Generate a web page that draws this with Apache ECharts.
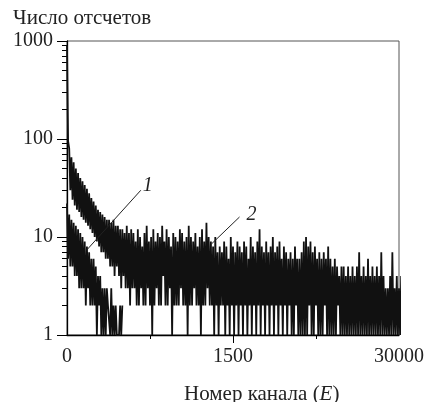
<!DOCTYPE html>
<html><head><meta charset="utf-8">
<script src="https://cdn.jsdelivr.net/npm/echarts@6/dist/echarts.min.js"></script>
<style>html,body{margin:0;padding:0;background:#fff}#c{width:428px;height:402px}</style>
</head><body><div id="c"></div>
<script>
// channel step between consecutive samples
const STEP = 10;
// Curve 1 (fast decaying), channels 0..500
const curve1 = [22,6,17,5,15,5,14,4,13,4, 12,3,11,3,10,3,9,2,8,3, 7,2,6,2,6,2,5,1,4,2, 4,1,3,1,3,1,3,2,2,1, 3,1,2,1,2,1,1,1,2,1, 2];
// Curve 2, channels 0..3030
const curve2 = [
  900,95,80,30,65,24,58,21,50,19,
  45,18,40,16,37,15,34,14,31,13,
  28,12,25,11,23,10,21,9,19,8,
  18,7,17,7,16,6,15,6,15,5,
  14,5,15,4,13,5,13,4,12,3,
  12,4,11,3,13,3,11,2,12,3,
  11,3,9,2,12,2,10,3,8,2,
  11,2,13,3,9,2,10,1,12,2,
  9,3,11,2,10,2,13,4,9,2,
  12,2,10,3,8,1,11,2,10,2,
  9,2,12,3,11,2,9,2,10,1,
  13,2,10,2,9,3,11,2,8,2,
  10,1,12,2,9,2,14,3,10,2,
  9,2,8,1,10,2,7,1,8,2,
  7,2,9,1,8,2,6,1,10,2,
  8,1,7,2,9,1,8,2,7,1,
  9,2,8,1,6,2,10,1,8,2,
  7,1,9,2,12,1,8,2,7,1,
  9,2,7,1,8,2,10,1,7,2,
  8,1,9,2,6,1,8,2,7,1,
  6,2,7,1,6,1,8,2,6,1,
  6,1,7,1,9,1,10,1,8,2,
  9,1,7,1,8,2,6,1,7,1,
  6,1,7,2,6,1,8,1,6,1,
  5,1,6,1,5,2,4,1,5,1,
  5,1,4,1,5,1,4,1,5,1,
  4,1,5,1,7,1,4,1,5,1,
  4,1,6,1,4,1,5,1,4,1,
  5,1,4,1,7,1,4,1,3,1,
  3,1,4,1,7,1,3,1,4,1,
  3,1,4,1
];
const yMajorTicks = [1,10,100,1000];
const yTickLabels = ['1','10','100','1000'];
const yMinorTicks = [2,3,4,5,6,7,8,9,20,30,40,50,60,70,80,90,200,300,400,500,600,700,800,900];
const xTickValues = [0,1500,3000];
const xTickLabels = ['0','1500','30000'];
const xMajorTickMarks = [1500];
const xMinorTickMarks = [750,2250];
const xMin = 0, xMax = 3000, yMin = 1, yMax = 1000;
const yTitle = 'Число отсчетов';
const xTitleParts = ['Номер канала (', 'E', ')'];
const annotations = [
  {text:'1', label:[730,33], from:[667,30], to:[180,7.4]},
  {text:'2', label:[1667,16.7], from:[1559,16], to:[1306,8.5]}
];

const FONT = 'Liberation Serif';
const toPairs = arr => arr.map((v,i)=>[i*STEP, v]);

const chart = echarts.init(document.getElementById('c'), null, {renderer:'canvas'});
const lineSeries = (name, arr) => ({
  name, type:'line', data: toPairs(arr), showSymbol:false, symbol:'none',
  clip:false, sampling:null, animation:false,
  lineStyle:{color:'#111', width:1.8, join:'miter', cap:'butt'}
});
chart.setOption({
  animation:false,
  backgroundColor:'#fff',
  grid:{left:67, right:29, top:41, bottom:67, show:true, borderColor:'#555', borderWidth:1, outerBoundsMode:'none', containLabel:false},
  title:[
    {text:yTitle, left:8, top:3, textStyle:{fontFamily:FONT, fontSize:21, fontWeight:'normal', color:'#222'}},
    {text:'{a|'+xTitleParts[0]+'}{b|'+xTitleParts[1]+'}{a|'+xTitleParts[2]+'}', left:179, top:379,
     textStyle:{fontWeight:'normal', rich:{a:{fontFamily:FONT, fontSize:21, fontWeight:'normal', color:'#222'}, b:{fontFamily:FONT, fontSize:21, fontWeight:'normal', fontStyle:'italic', color:'#222'}}}}
  ],
  xAxis:[
    {type:'value', min:xMin, max:xMax, position:'bottom',
     axisLine:{show:true, onZero:false, lineStyle:{color:'#000', width:1.3}},
     axisTick:{show:true, customValues:xMajorTickMarks, length:8, lineStyle:{color:'#000', width:1}},
     axisLabel:{show:true, customValues:xTickValues, margin:12, fontFamily:FONT, fontSize:20, color:'#222',
       formatter: v => xTickLabels[xTickValues.indexOf(v)]},
     splitLine:{show:false}},
    {type:'value', min:xMin, max:xMax, position:'bottom', offset:0,
     axisLine:{show:false, onZero:false},
     axisTick:{show:true, customValues:xMinorTickMarks, length:4, lineStyle:{color:'#000', width:1}},
     axisLabel:{show:false}, splitLine:{show:false}}
  ],
  yAxis:[
    {type:'log', logBase:10, min:yMin, max:yMax, position:'left',
     axisLine:{show:true, onZero:false, lineStyle:{color:'#000', width:1.3}},
     axisTick:{show:true, customValues:yMajorTicks, length:10, lineStyle:{color:'#000', width:1}},
     axisLabel:{show:true, customValues:yMajorTicks, margin:14, fontFamily:FONT, fontSize:20, color:'#222',
       formatter: v => { const i = yMajorTicks.findIndex(t => Math.abs(t - v) < 1e-6 * t); return i >= 0 ? yTickLabels[i] : ''; }},
     splitLine:{show:false}, minorTick:{show:false}},
    {type:'log', logBase:10, min:yMin, max:yMax, position:'left', offset:0,
     axisLine:{show:false, onZero:false},
     axisTick:{show:true, customValues:yMinorTicks, length:5, lineStyle:{color:'#000', width:1}},
     axisLabel:{show:false}, splitLine:{show:false}}
  ],
  series:[lineSeries('1', curve1), lineSeries('2', curve2)]
});

const px = p => chart.convertToPixel({xAxisIndex:0, yAxisIndex:0}, p);
const graphics = [];
annotations.forEach(a => {
  const f = px(a.from), t = px(a.to), l = px(a.label);
  graphics.push({type:'line', shape:{x1:f[0], y1:f[1], x2:t[0], y2:t[1]}, style:{stroke:'#222', lineWidth:1}, z:100});
  graphics.push({type:'text', x:l[0], y:l[1], style:{text:a.text, fontFamily:FONT, fontSize:20, fontStyle:'italic', fill:'#222', align:'center', verticalAlign:'middle'}, z:100});
});
chart.setOption({graphic:graphics});
</script>
</body></html>
